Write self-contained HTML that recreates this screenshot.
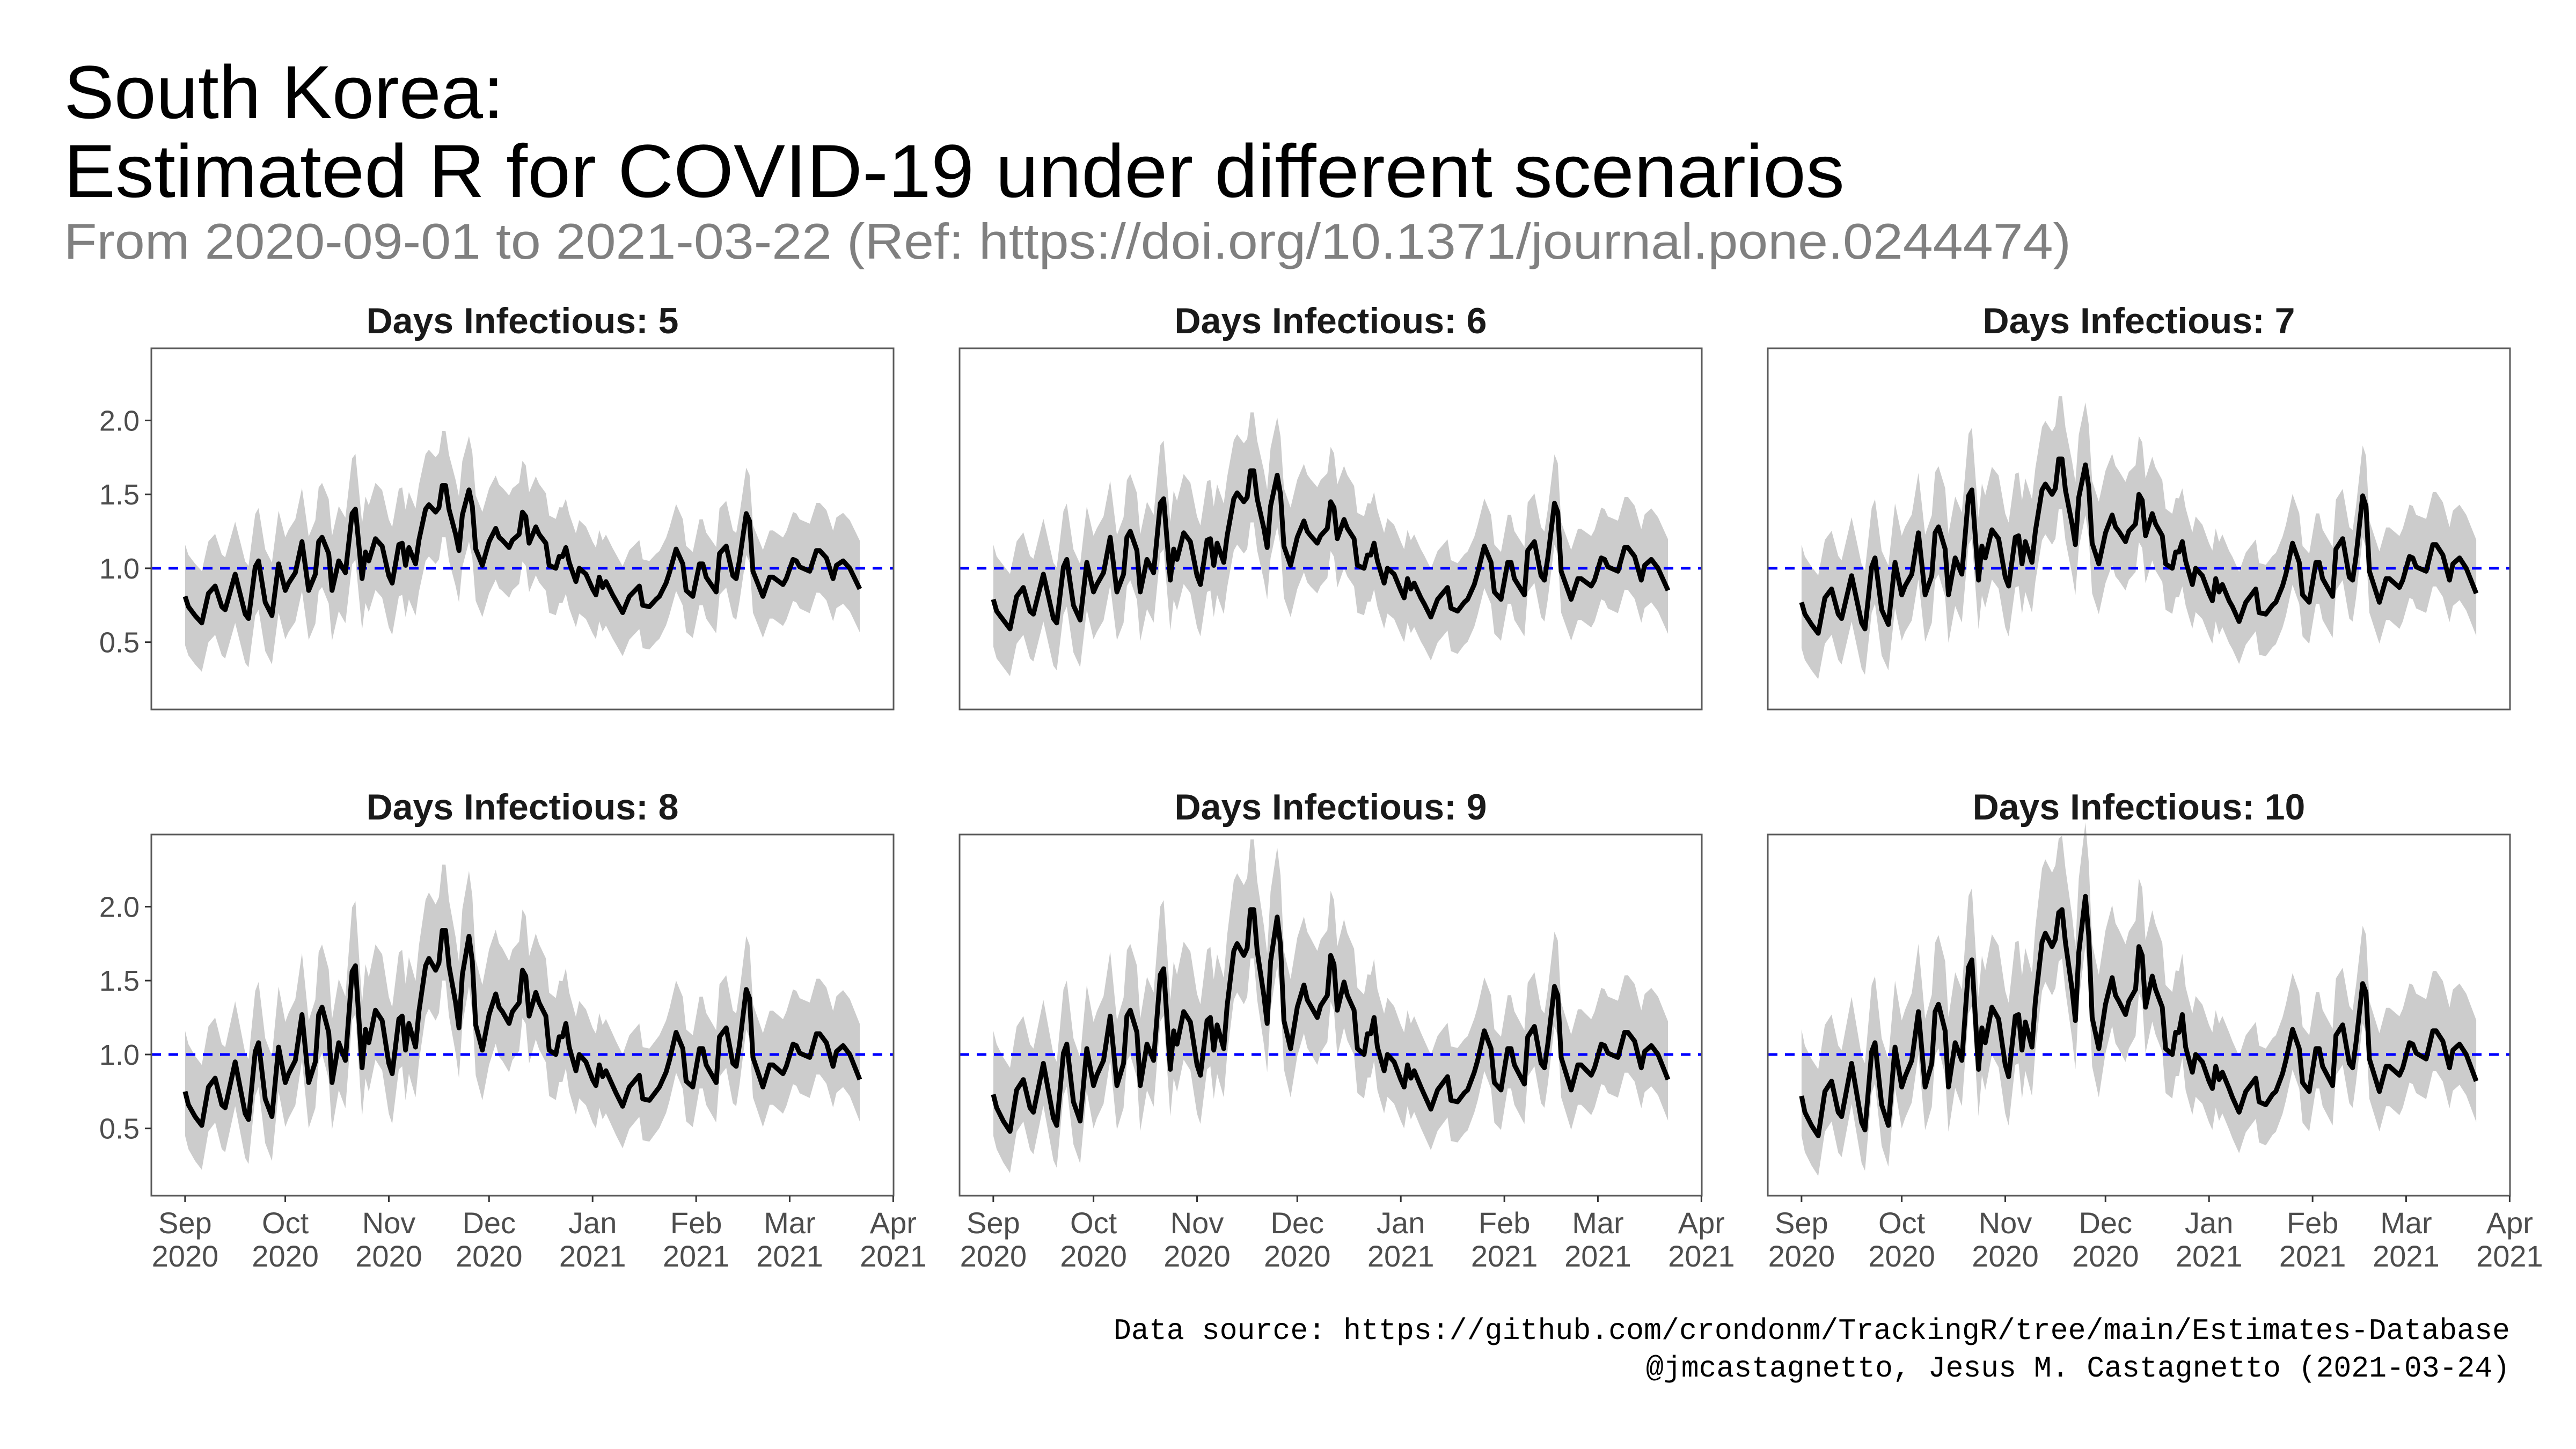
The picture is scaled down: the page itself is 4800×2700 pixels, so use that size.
<!DOCTYPE html>
<html><head><meta charset="utf-8"><style>
html,body{margin:0;padding:0;background:#fff;}
svg{display:block;}
</style></head><body>
<svg id="chart" xmlns="http://www.w3.org/2000/svg" width="4800" height="2700" viewBox="0 0 4800 2700">
<rect x="0" y="0" width="4800" height="2700" fill="#fff"/>
<text x="119" y="220" font-family="Liberation Sans, sans-serif" font-size="140" fill="#000" textLength="820" lengthAdjust="spacingAndGlyphs">South Korea:</text>
<text x="119" y="367" font-family="Liberation Sans, sans-serif" font-size="140" fill="#000" textLength="3318" lengthAdjust="spacingAndGlyphs">Estimated R for COVID-19 under different scenarios</text>
<text x="119" y="482" font-family="Liberation Sans, sans-serif" font-size="94" fill="#808080" textLength="3740" lengthAdjust="spacingAndGlyphs">From 2020-09-01 to 2021-03-22 (Ref: https://doi.org/10.1371/journal.pone.0244474)</text>
<g id="panels"></g>
<text x="4677" y="2495" text-anchor="end" font-family="Liberation Mono, monospace" font-size="56" fill="#000" textLength="2602" lengthAdjust="spacingAndGlyphs">Data source: https://github.com/crondonm/TrackingR/tree/main/Estimates-Database</text>
<text x="4677" y="2565" text-anchor="end" font-family="Liberation Mono, monospace" font-size="56" fill="#000" textLength="1610" lengthAdjust="spacingAndGlyphs">@jmcastagnetto, Jesus M. Castagnetto (2021-03-24)</text>
</svg>
<script>
const days = [0,1,3,5,7,9,11,12,15,18,19,21,22,24,26,28,30,31,33,35,37,39,40,41,43,44,46,48,50,51,53,54,55,57,59,61,62,64,65,66,67,69,70,72,73,75,76,77,78,79,81,82,83,85,86,87,89,91,93,94,95,97,98,100,101,102,103,105,106,108,109,111,112,113,114,115,117,118,120,122,123,124,125,126,128,129,131,133,136,137,139,141,142,144,145,147,149,150,152,154,155,156,159,160,162,164,165,166,168,169,170,173,175,176,179,180,182,183,184,187,189,190,192,194,195,197,199,202];
const panelTitles = ["Days Infectious: 5","Days Infectious: 6","Days Infectious: 7","Days Infectious: 8","Days Infectious: 9","Days Infectious: 10"];
const r5 = [0.81,0.74,0.68,0.63,0.83,0.88,0.74,0.72,0.96,0.69,0.66,1.01,1.05,0.77,0.68,1.03,0.85,0.90,0.97,1.18,0.85,0.96,1.18,1.21,1.10,0.85,1.05,0.97,1.37,1.40,0.93,1.11,1.05,1.20,1.15,0.95,0.90,1.16,1.17,1.02,1.14,1.03,1.19,1.40,1.43,1.38,1.41,1.56,1.56,1.40,1.23,1.12,1.36,1.53,1.42,1.13,1.02,1.18,1.27,1.21,1.19,1.14,1.19,1.23,1.38,1.35,1.17,1.28,1.23,1.17,1.02,1.00,1.08,1.08,1.14,1.04,0.91,1.00,0.96,0.86,0.82,0.94,0.87,0.91,0.82,0.78,0.70,0.81,0.88,0.75,0.74,0.79,0.81,0.90,0.97,1.13,1.03,0.85,0.81,1.03,1.03,0.94,0.84,1.10,1.15,0.95,0.93,1.06,1.37,1.32,0.98,0.81,0.94,0.94,0.89,0.93,1.06,1.05,1.01,0.98,1.12,1.12,1.07,0.93,1.02,1.05,1.00,0.86];
const r6 = [0.79,0.71,0.65,0.59,0.81,0.87,0.71,0.69,0.96,0.66,0.63,1.01,1.06,0.75,0.65,1.04,0.84,0.89,0.97,1.21,0.84,0.96,1.21,1.25,1.12,0.84,1.06,0.97,1.44,1.47,0.92,1.13,1.06,1.24,1.18,0.95,0.89,1.19,1.20,1.02,1.17,1.04,1.22,1.47,1.51,1.45,1.48,1.66,1.66,1.47,1.27,1.14,1.42,1.63,1.50,1.15,1.02,1.21,1.32,1.25,1.22,1.17,1.22,1.27,1.45,1.41,1.20,1.33,1.27,1.20,1.02,1.00,1.09,1.09,1.17,1.05,0.90,1.00,0.96,0.85,0.80,0.93,0.86,0.90,0.80,0.76,0.67,0.79,0.87,0.73,0.71,0.77,0.79,0.89,0.97,1.15,1.04,0.84,0.79,1.04,1.04,0.93,0.82,1.12,1.18,0.95,0.92,1.07,1.44,1.38,0.98,0.79,0.93,0.93,0.88,0.92,1.07,1.06,1.01,0.98,1.14,1.14,1.08,0.92,1.02,1.06,1.00,0.85];
const r7 = [0.77,0.69,0.62,0.56,0.80,0.86,0.69,0.66,0.95,0.63,0.59,1.01,1.07,0.72,0.62,1.04,0.82,0.88,0.96,1.24,0.82,0.95,1.24,1.28,1.13,0.82,1.07,0.96,1.49,1.53,0.92,1.15,1.07,1.26,1.20,0.94,0.88,1.21,1.22,1.03,1.18,1.04,1.25,1.53,1.57,1.50,1.54,1.74,1.74,1.53,1.30,1.16,1.48,1.70,1.55,1.17,1.03,1.24,1.36,1.28,1.25,1.18,1.25,1.30,1.50,1.46,1.22,1.37,1.30,1.22,1.03,1.00,1.11,1.11,1.18,1.05,0.89,1.00,0.95,0.83,0.78,0.93,0.84,0.89,0.78,0.74,0.64,0.77,0.86,0.70,0.69,0.75,0.77,0.88,0.96,1.17,1.04,0.82,0.77,1.04,1.04,0.93,0.81,1.13,1.20,0.94,0.92,1.08,1.49,1.42,0.98,0.77,0.93,0.93,0.87,0.92,1.08,1.07,1.01,0.98,1.16,1.16,1.09,0.92,1.03,1.07,1.00,0.83];
const r8 = [0.75,0.66,0.58,0.52,0.78,0.84,0.66,0.64,0.95,0.60,0.56,1.02,1.08,0.70,0.58,1.05,0.81,0.87,0.96,1.27,0.81,0.95,1.27,1.32,1.15,0.81,1.08,0.96,1.56,1.60,0.91,1.17,1.08,1.30,1.23,0.94,0.87,1.24,1.26,1.03,1.21,1.05,1.29,1.60,1.65,1.57,1.62,1.84,1.84,1.60,1.35,1.18,1.54,1.80,1.63,1.20,1.03,1.27,1.41,1.32,1.29,1.21,1.29,1.35,1.57,1.53,1.26,1.42,1.35,1.26,1.03,1.00,1.12,1.12,1.21,1.05,0.89,1.00,0.95,0.83,0.79,0.93,0.85,0.89,0.79,0.74,0.65,0.78,0.86,0.70,0.69,0.75,0.78,0.88,0.96,1.15,1.04,0.82,0.78,1.04,1.04,0.93,0.81,1.12,1.18,0.94,0.92,1.07,1.44,1.38,0.98,0.78,0.93,0.93,0.87,0.92,1.07,1.06,1.01,0.98,1.14,1.14,1.08,0.92,1.02,1.06,1.00,0.83];
const r9 = [0.73,0.64,0.55,0.48,0.76,0.83,0.64,0.61,0.94,0.57,0.52,1.01,1.07,0.68,0.55,1.04,0.79,0.86,0.96,1.26,0.79,0.94,1.26,1.30,1.15,0.79,1.07,0.96,1.54,1.58,0.90,1.16,1.07,1.29,1.22,0.93,0.86,1.23,1.25,1.03,1.20,1.04,1.33,1.70,1.75,1.67,1.72,1.98,1.98,1.70,1.40,1.21,1.63,1.93,1.74,1.23,1.04,1.32,1.47,1.37,1.33,1.25,1.33,1.40,1.67,1.61,1.30,1.49,1.40,1.30,1.04,1.00,1.14,1.14,1.25,1.05,0.89,1.00,0.95,0.83,0.78,0.93,0.84,0.89,0.78,0.73,0.63,0.76,0.85,0.69,0.68,0.74,0.76,0.88,0.96,1.16,1.04,0.81,0.76,1.04,1.04,0.93,0.80,1.12,1.19,0.94,0.91,1.07,1.46,1.40,0.98,0.76,0.93,0.93,0.86,0.91,1.07,1.06,1.01,0.98,1.15,1.15,1.09,0.91,1.02,1.06,1.00,0.83];
const r10 = [0.72,0.61,0.52,0.45,0.75,0.82,0.61,0.58,0.94,0.54,0.49,1.02,1.08,0.66,0.52,1.05,0.78,0.85,0.96,1.29,0.78,0.94,1.29,1.34,1.16,0.78,1.08,0.96,1.59,1.64,0.90,1.18,1.08,1.32,1.24,0.93,0.85,1.26,1.27,1.03,1.22,1.05,1.36,1.76,1.82,1.73,1.78,1.96,1.98,1.76,1.44,1.23,1.69,2.07,1.80,1.25,1.04,1.34,1.52,1.40,1.36,1.27,1.36,1.44,1.73,1.67,1.32,1.53,1.44,1.32,1.04,1.00,1.15,1.15,1.27,1.05,0.88,1.00,0.95,0.82,0.77,0.92,0.83,0.88,0.77,0.71,0.61,0.75,0.84,0.68,0.66,0.73,0.75,0.87,0.96,1.17,1.04,0.81,0.75,1.04,1.04,0.92,0.79,1.13,1.20,0.94,0.91,1.08,1.48,1.42,0.97,0.75,0.92,0.92,0.86,0.91,1.08,1.07,1.01,0.97,1.16,1.16,1.09,0.91,1.03,1.07,1.00,0.82];
const bandKnotDays = [0,30,61,91,122,153,181,212];
const hi5 = [0.35,0.36,0.38,0.36,0.32,0.30,0.32,0.33];
const lo5 = [0.33,0.33,0.35,0.35,0.30,0.28,0.28,0.30];
const hi6 = [0.37,0.38,0.40,0.39,0.33,0.32,0.34,0.35];
const lo6 = [0.32,0.32,0.35,0.35,0.30,0.28,0.28,0.30];
const hi7 = [0.39,0.40,0.43,0.42,0.34,0.33,0.35,0.37];
const lo7 = [0.31,0.31,0.34,0.34,0.29,0.28,0.28,0.29];
const hi8 = [0.41,0.41,0.45,0.44,0.35,0.35,0.37,0.38];
const lo8 = [0.30,0.30,0.34,0.34,0.29,0.27,0.27,0.29];
const hi9 = [0.43,0.43,0.48,0.47,0.37,0.36,0.38,0.40];
const lo9 = [0.28,0.29,0.33,0.33,0.28,0.27,0.27,0.28];
const hi10 = [0.45,0.45,0.50,0.50,0.38,0.38,0.40,0.42];
const lo10 = [0.27,0.28,0.33,0.33,0.28,0.27,0.27,0.28];
const yTicks = [0.5,1.0,1.5,2.0];
const yTickLabels = ["0.5","1.0","1.5","2.0"];
const xTickDays = [0,30,61,91,122,153,181,212];
const xTickMonths = ["Sep","Oct","Nov","Dec","Jan","Feb","Mar","Apr"];
const xTickYears = ["2020","2020","2020","2020","2021","2021","2021","2021"];

const seriesList = [r5,r6,r7,r8,r9,r10];
const hiList = [hi5,hi6,hi7,hi8,hi9,hi10];
const loList = [lo5,lo6,lo7,lo8,lo9,lo10];
const NS = "http://www.w3.org/2000/svg";
const colX = [282,1788,3294], PW = 1383;
const rowY = [649,1555], PH = 673;
const X0 = -10.1, X1 = 212.1, Y0 = 0.045, Y1 = 2.488;
function interp(kd, kv, d){
  for(let i=0;i<kd.length-1;i++){ if(d<=kd[i+1]){ const t=(d-kd[i])/(kd[i+1]-kd[i]); return kv[i]+t*(kv[i+1]-kv[i]); } }
  return kv[kv.length-1];
}
function mk(tag, attrs, parent){ const e=document.createElementNS(NS,tag); for(const k in attrs) e.setAttribute(k,attrs[k]); parent.appendChild(e); return e; }
const root = document.getElementById('panels');
for(let p=0;p<6;p++){
  const col=p%3,row=Math.floor(p/3);
  const L=colX[col], T=rowY[row];
  const xs = d => L + (d-X0)/(X1-X0)*PW;
  const ys = v => T + (Y1-v)/(Y1-Y0)*PH;
  const g = mk('g',{},root);
  
  
  const title = mk('text',{x:L+PW/2,y:T-28,'text-anchor':'middle','font-family':'Liberation Sans, sans-serif','font-size':'68','font-weight':'bold',fill:'#1a1a1a'},g);
  title.textContent = panelTitles[p];
  
  
  const s = seriesList[p], hi=hiList[p], lo=loList[p];
  let up='', dn='';
  for(let i=0;i<days.length;i++){
    up += (i?'L':'M')+xs(days[i]).toFixed(1)+','+ys(s[i]+interp(bandKnotDays,hi,days[i])).toFixed(1);
  }
  for(let i=days.length-1;i>=0;i--){
    dn += 'L'+xs(days[i]).toFixed(1)+','+ys(Math.max(Y0,s[i]-interp(bandKnotDays,lo,days[i]))).toFixed(1);
  }
  const band = mk('path',{d:up+dn+'Z',fill:'#cccccc',stroke:'none'},g);
  
  
  const ref = mk('line',{x1:L,x2:L+PW,y1:ys(1),y2:ys(1),stroke:'#0000ff','stroke-width':'5','stroke-dasharray':'18 14'},g);
  
  
  let d='';
  for(let i=0;i<days.length;i++) d += (i?'L':'M')+xs(days[i]).toFixed(1)+','+ys(s[i]).toFixed(1);
  const line = mk('path',{d:d,fill:'none',stroke:'#000','stroke-width':'9','stroke-linejoin':'round'},g);
  
  
  const frame = mk('rect',{x:L,y:T,width:PW,height:PH,fill:'none',stroke:'#5a5a5a','stroke-width':'3'},g);
  
  
  if(col===0){
    for(let i=0;i<yTicks.length;i++){
      const yy=ys(yTicks[i]);
      const tk=mk('line',{x1:L-12,x2:L,y1:yy,y2:yy,stroke:'#333','stroke-width':'3'},g);
      
      
      const tl=mk('text',{x:L-22,y:yy+19,'text-anchor':'end','font-family':'Liberation Sans, sans-serif','font-size':'54',fill:'#4d4d4d'},g);
      tl.textContent=yTickLabels[i];
      
      
    }
  }
  if(row===1){
    for(let i=0;i<xTickDays.length;i++){
      const xx=xs(xTickDays[i]);
      const tk=mk('line',{x1:xx,x2:xx,y1:T+PH,y2:T+PH+12,stroke:'#333','stroke-width':'3'},g);
      
      
      const t1=mk('text',{x:xx,y:T+PH+70,'text-anchor':'middle','font-family':'Liberation Sans, sans-serif','font-size':'56',fill:'#4d4d4d'},g);
      t1.textContent=xTickMonths[i];
      
      
      const t2=mk('text',{x:xx,y:T+PH+132,'text-anchor':'middle','font-family':'Liberation Sans, sans-serif','font-size':'56',fill:'#4d4d4d'},g);
      t2.textContent=xTickYears[i];
      
      
    }
  }
}
</script>
</body></html>
